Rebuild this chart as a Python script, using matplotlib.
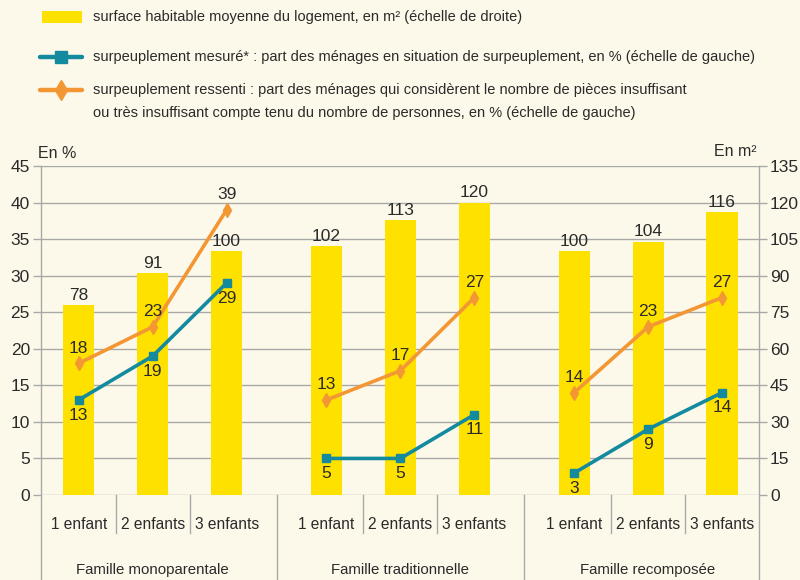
import matplotlib
matplotlib.use("Agg")
import matplotlib.pyplot as plt
import matplotlib.transforms as mtransforms
from matplotlib.patches import Rectangle
from matplotlib.lines import Line2D

plt.rcParams['font.family'] = ['Liberation Sans Narrow', 'Liberation Sans', 'DejaVu Sans']

# ── Data ─────────────────────────────────────────
groups = ["Famille monoparentale", "Famille traditionnelle", "Famille recomposée"]
children = ["1 enfant", "2 enfants", "3 enfants"]
surface = [[78, 91, 100], [102, 113, 120], [100, 104, 116]]          # m² (right axis)
surpeuplement_mesure = [[13, 19, 29], [5, 5, 11], [3, 9, 14]]         # % (left axis)
surpeuplement_ressenti = [[18, 23, 39], [13, 17, 27], [14, 23, 27]]   # % (left axis)

legend_labels = [
    "surface habitable moyenne du logement, en m² (échelle de droite)",
    "surpeuplement mesuré* : part des ménages en situation de surpeuplement, en % (échelle de gauche)",
    "surpeuplement ressenti : part des ménages qui considèrent le nombre de pièces insuffisant",
    "ou très insuffisant compte tenu du nombre de personnes, en % (échelle de gauche)",
]

# ── Style ────────────────────────────────────────
BG = '#fdf9ea'
YELLOW = '#ffe100'
TEAL = '#138a9e'
ORANGE = '#f39634'
GRID = '#a8a8a8'
TXT = '#2a2a2a'
GROUP_STEP = 3.35
W, H = 800, 580

fig = plt.figure(figsize=(W / 100, H / 100), dpi=100)
fig.patch.set_facecolor(BG)
ax = fig.add_axes([41 / W, 85 / H, 718 / W, 329 / H])
ax2 = ax.twinx()
ax.set_zorder(2)
ax2.set_zorder(1)
ax.patch.set_visible(False)
ax2.patch.set_facecolor(BG)

positions = [[g * GROUP_STEP + i for i in range(3)] for g in range(3)]

# bars on right axis (m²)
for g in range(3):
    ax2.bar(positions[g], surface[g], width=0.42, color=YELLOW, zorder=2)
    for x, v in zip(positions[g], surface[g]):
        ax2.annotate(str(v), (x, v), xytext=(0, 1.5), textcoords='offset points',
                     ha='center', va='bottom', fontsize=12.5, color=TXT, zorder=3)

# lines on left axis (%)
for g in range(3):
    ax.plot(positions[g], surpeuplement_ressenti[g], color=ORANGE, lw=2.6,
            marker='d', markersize=7, zorder=3)
    ax.plot(positions[g], surpeuplement_mesure[g], color=TEAL, lw=2.6,
            marker='s', markersize=6, zorder=4)
    for x, v in zip(positions[g], surpeuplement_ressenti[g]):
        ax.annotate(str(v), (x, v), xytext=(0, 11), textcoords='offset points',
                    ha='center', va='center', fontsize=12.5, color=TXT)
    for x, v in zip(positions[g], surpeuplement_mesure[g]):
        ax.annotate(str(v), (x, v), xytext=(0, -11), textcoords='offset points',
                    ha='center', va='center', fontsize=12.5, color=TXT)

xlim = (-0.51, 2 * GROUP_STEP + 2 + 0.5)
ax.set_xlim(*xlim)
ax.set_ylim(0, 45)
ax2.set_ylim(0, 135)
ax.set_yticks(range(0, 46, 5))
ax2.set_yticks(range(0, 136, 15))
ax2.yaxis.grid(True, color=GRID, lw=1)
ax2.set_axisbelow(True)
ax.set_xticks([])
ax2.set_xticks([])

for a in (ax, ax2):
    for s in a.spines.values():
        s.set_visible(False)
    a.tick_params(axis='y', length=6, color=GRID, width=1, labelsize=12.5,
                  labelcolor=TXT, pad=2)

# category / group dividers below the plot
trans = mtransforms.blended_transform_factory(ax.transData, ax.transAxes)
ax.plot([xlim[0], xlim[0]], [-0.255, 1], color=GRID, lw=1, transform=trans, clip_on=False)
ax.plot([xlim[1], xlim[1]], [-0.255, 1], color=GRID, lw=1, transform=trans, clip_on=False)
for g in range(3):
    for i in range(3):
        x = positions[g][i]
        ax.text(x, -0.09, children[i], transform=trans, ha='center', va='center',
                fontsize=11.2, color=TXT)
        if i < 2:
            ax.plot([x + 0.5, x + 0.5], [0, -0.115], color=GRID, lw=1,
                    transform=trans, clip_on=False)
    ax.text(positions[g][1], -0.228, groups[g], transform=trans, ha='center',
            va='center', fontsize=10.8, color=TXT)
    if g < 2:
        xs = (positions[g][2] + positions[g + 1][0]) / 2
        ax.plot([xs, xs], [0, -0.255], color=GRID, lw=1, transform=trans, clip_on=False)

ax.text(-0.004, 1.015, "En %", transform=ax.transAxes, ha='left', va='bottom',
        fontsize=11.5, color=TXT)
ax.text(0.997, 1.022, "En m²", transform=ax.transAxes, ha='right', va='bottom',
        fontsize=11.5, color=TXT)

# ── Legend (drawn by hand, figure pixel positions) ──
def fx(px):
    return px / W

def fy(py):
    return 1 - py / H

fig.add_artist(Rectangle((fx(42), fy(23)), 40 / W, 12 / H, transform=fig.transFigure,
                         facecolor=YELLOW, edgecolor='none'))
fig.add_artist(Line2D([fx(40), fx(82)], [fy(57), fy(57)], transform=fig.transFigure,
                      color=TEAL, lw=3.2, solid_capstyle='round'))
fig.add_artist(Line2D([fx(61)], [fy(57)], transform=fig.transFigure,
                      color=TEAL, marker='s', markersize=8, linestyle='none'))
fig.add_artist(Line2D([fx(40), fx(82)], [fy(90), fy(90)], transform=fig.transFigure,
                      color=ORANGE, lw=3.2, solid_capstyle='round'))
fig.add_artist(Line2D([fx(61)], [fy(90)], transform=fig.transFigure,
                      color=ORANGE, marker='d', markersize=10, linestyle='none'))
for label, py in zip(legend_labels, [17, 57, 90, 113]):
    fig.text(fx(93), fy(py), label, ha='left', va='center', fontsize=10.5, color=TXT)

fig.savefig("out.png", dpi=100, facecolor=BG)
